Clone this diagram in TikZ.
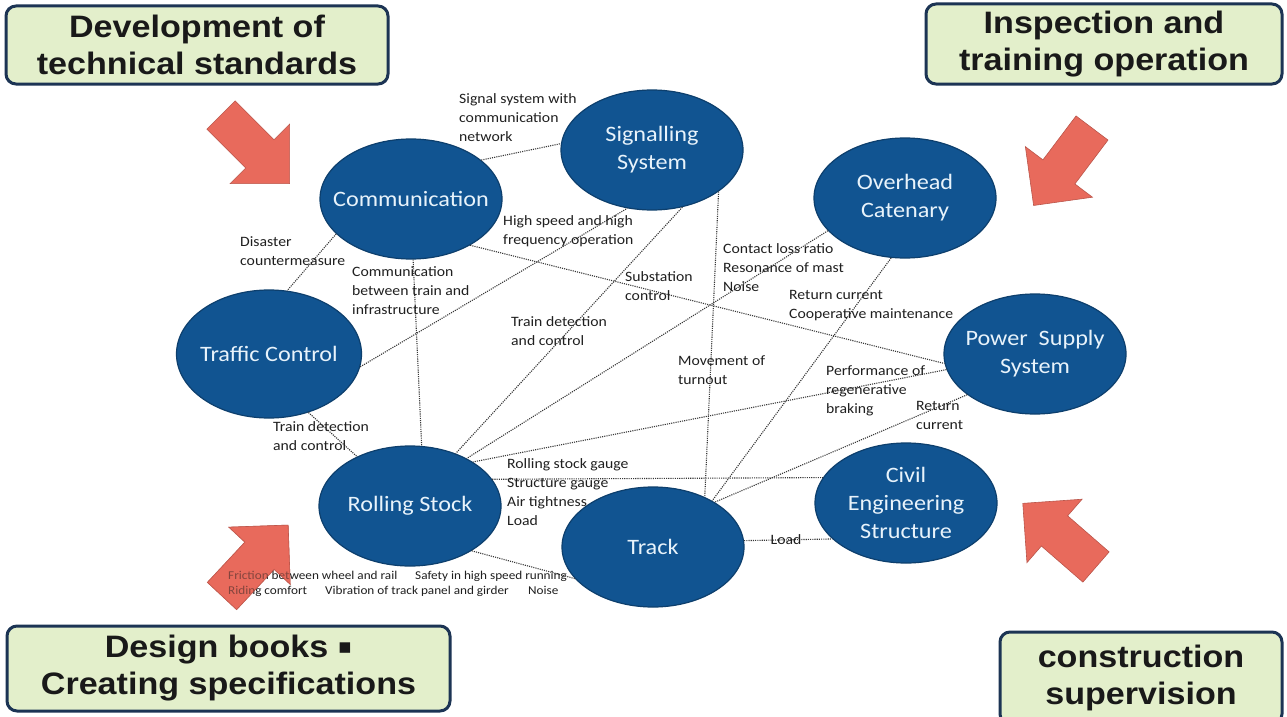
\documentclass[tikz,border=0pt]{standalone}
\usepackage{fontspec}
\setmainfont{Carlito}[FakeStretch=1.1]
\newfontfamily\headfont{Liberation Sans}[FakeStretch=1.1]
\newfontfamily\symfont{DejaVu Sans}
\usetikzlibrary{shapes.geometric}

\definecolor{topicblue}{RGB}{17,84,145}
\definecolor{topictext}{RGB}{232,243,251}
\definecolor{boxgreen}{RGB}{227,239,203}
\definecolor{boxline}{RGB}{28,52,84}
\definecolor{arrowred}{RGB}{232,106,92}
\definecolor{linkgray}{RGB}{55,55,55}

% block arrow: tail midpoint, direction
\newcommand{\redarrow}[3][]{%
  \filldraw[bigarrow, #1, shift={#2}, rotate=#3]
    (0,-20) -- (55,-20) -- (55,-42) -- (97,0) -- (55,42) -- (55,20) -- (0,20) -- cycle;}

\begin{document}
\begin{tikzpicture}[x=1pt, y=-1pt,
  topic/.style={ellipse, fill=topicblue, draw=topicblue!75!black, line width=1.2pt,
    minimum width=182pt, minimum height=120pt, inner xsep=-25pt, inner ysep=0pt,
    align=center, text=topictext, font=\fontsize{22}{28}\selectfont},
  task/.style={rounded corners=10pt, fill=boxgreen, draw=boxline, line width=3pt,
    align=center, inner sep=0pt, text=black!90,
    font=\headfont\bfseries\fontsize{31}{37}\selectfont},
  link/.style={draw=linkgray, line width=1.1pt, dash pattern=on 1.1pt off 1.1pt},
  note/.style={anchor=north west, inner sep=0pt, align=left, text=black!88,
    font=\fontsize{14.3}{19}\selectfont},
  smallnote/.style={anchor=base west, inner sep=0pt, text=black!88,
    font=\fontsize{12}{15}\selectfont},
  bigarrow/.style={fill=arrowred, draw=arrowred!80!black, line width=0.6pt}]

\fill[white] (0,0) rectangle (1287,717);
\useasboundingbox (0,0) rectangle (1287,717);

% subsystems
\node[topic] (comm) at (411,199) {Communication};
\node[topic] (sig) at (652,150) {Signalling\\System};
\node[topic] (ohc) at (905,198) {Overhead\\Catenary};
\node[topic, minimum width=185pt, minimum height=128pt] (tc) at (269,354) {Traffic Control};
\node[topic] (pss) at (1035,354) {Power\ \ Supply\\System};
\node[topic] (rs) at (410,506) {Rolling Stock};
\node[topic] (trk) at (653,547) {Track};
\node[topic] (ces) at (906,503) {Civil\\Engineering\\Structure};

% interfaces
\draw[link] (comm.29) -- (sig.176);
\draw[link] (comm.205) -- (tc.74);
\draw[link] (comm.272) -- (rs.79);
\draw[link] (comm.322) -- (pss.186);
\draw[link] (tc.352) -- (sig.247);
\draw[link] (tc.304) -- (rs.137);
\draw[link] (sig.298) -- (rs.49);
\draw[link] (sig.328) -- (trk.44);
\draw[link] (ohc.203) -- (rs.40);
\draw[link] (ohc.257) -- (trk.38);
\draw[link] (pss.190) -- (rs.35);
\draw[link] (pss.211) -- (trk.36);
\draw[link] (rs.18) -- (ces.163);
\draw[link] (rs.324) -- (trk.202);
\draw[link] (trk.4) -- (ces.206);

\redarrow{(221,115)}{-45}
\redarrow{(1092,128)}{233}
\redarrow{(1096,567)}{139}
\redarrow{(222,596)}{47}

\begin{scope}[name prefix=lbl-]
  \node[note] (sigcomm) at (459,93) {Signal system with\\communication\\network};
  \node[note] (disaster) at (240,236) {Disaster\\countermeasure};
  \node[note] (comrs) at (352,266) {Communication\\between train and\\infrastructure};
  \node[note] (speed) at (503,215) {High speed and high\\frequency operation};
  \node[note] (substation) at (625,271) {Substation\\control};
  \node[note] (sigrs) at (511,316) {Train detection\\and control};
  \node[note] (contact) at (723,243) {Contact loss ratio\\Resonance of mast\\Noise};
  \node[note] (ohctrk) at (789,290) {Return current\\Cooperative maintenance};
  \node[note] (turnout) at (678,355) {Movement of\\turnout};
  \node[note] (braking) at (826,365) {Performance of\\regenerative\\braking};
  \node[note] (pstrk) at (916,401) {Return\\current};
  \node[note] (tcrs) at (273,421) {Train detection\\and control};
  \node[note] (gauge) at (507,458) {Rolling stock gauge\\Structure gauge\\Air tightness\\Load};
  \node[note, anchor=base] (load) at (786,544) {Load};
  \node[smallnote] (friction) at (228,579) {Friction between wheel and rail};
  \node[smallnote] (safety) at (415,579) {Safety in high speed running};
  \node[smallnote] (riding) at (228,594) {Riding comfort};
  \node[smallnote] (vibration) at (325,594) {Vibration of track panel and girder};
  \node[smallnote] (noise) at (528,594) {Noise};
\end{scope}

% the arrow tints the words lying under it
\redarrow[opacity=0.5]{(222,596)}{47}

% activities
\node[task, minimum width=382pt, minimum height=78pt] (dev) at (197,45) {Development of\\technical standards};
\node[task, minimum width=356pt, minimum height=80pt] (insp) at (1104,44) {Inspection and\\training operation};
\node[task, minimum width=443pt, minimum height=85pt] (books) at (228.5,668.5)
  {Design books \raisebox{4pt}{\symfont\fontsize{21}{21}\selectfont▪}\\Creating specifications};
\node[task, minimum width=282pt, minimum height=92pt] (cons) at (1141,678) {construction\\supervision};

\end{tikzpicture}
\end{document}
